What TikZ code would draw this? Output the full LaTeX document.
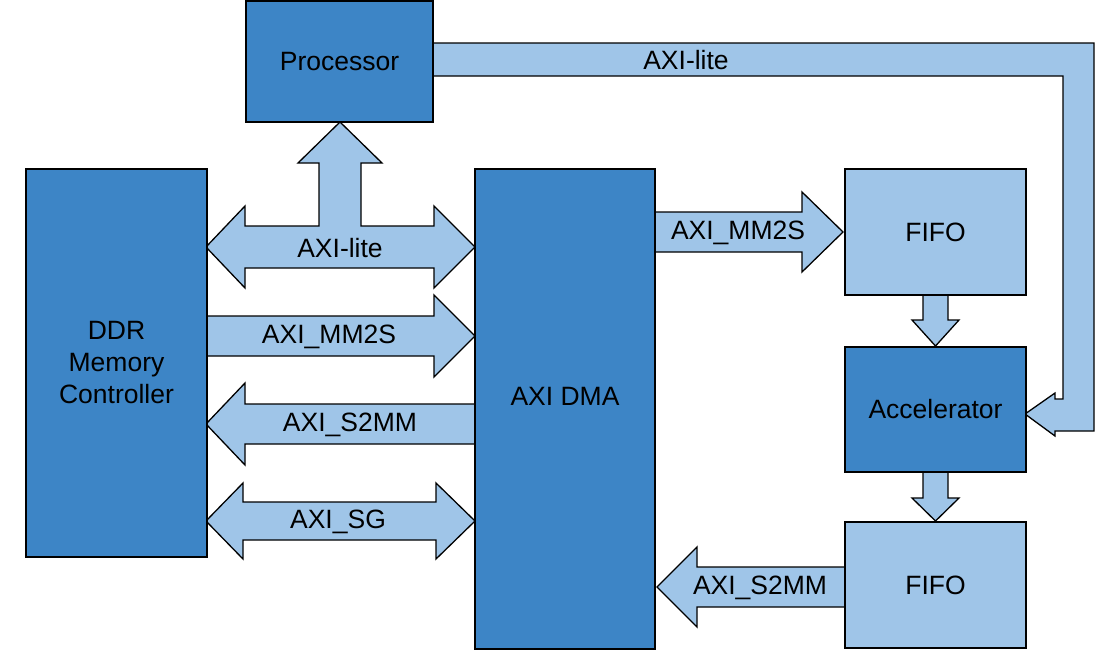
\documentclass[tikz,border=0pt]{standalone}
\usepackage{fontspec}
\setmainfont{Liberation Sans}
\definecolor{darkblk}{HTML}{3D85C6}
\definecolor{lightblk}{HTML}{9FC5E8}
\begin{document}
\begin{tikzpicture}[x=1pt,y=-1pt,
  every node/.style={font=\fontsize{26.5}{32}\selectfont, inner sep=0pt},
  darkbox/.style={draw=black, line width=1.3pt, fill=darkblk, rectangle},
  lightbox/.style={draw=black, line width=1.3pt, fill=lightblk, rectangle},
  blockarrow/.style={draw=black, line width=1.3pt, fill=lightblk, line join=miter},
  lbl/.style={text=black}]
\useasboundingbox (0,0) rectangle (1099,656);

% ---- block arrows (drawn first, boxes on top) ----
% AXI-lite bus from Processor to Accelerator
\draw[blockarrow] (433,43) -- (1094,43) -- (1094,431) -- (1055,431) -- (1055,436)
  -- (1025,414) -- (1055,393) -- (1055,399) -- (1063,399) -- (1063,76) -- (433,76) -- cycle;
\node[lbl] (lbus) at (686,60) {AXI-lite};

% T-shaped AXI-lite arrow
\draw[blockarrow] (206,247) -- (245,206) -- (245,226) -- (319,226) -- (319,163) -- (298,163)
  -- (340,122) -- (382,163) -- (361,163) -- (361,226) -- (434,226) -- (434,206) -- (475,247)
  -- (434,288) -- (434,268) -- (245,268) -- (245,288) -- cycle;
\node[lbl] (lt) at (340,248) {AXI-lite};

% AXI_MM2S DDR -> DMA
\draw[blockarrow] (207,316) -- (434,316) -- (434,295) -- (475,336) -- (434,377) -- (434,356) -- (207,356) -- cycle;
\node[lbl] (lmm) at (329,337) {AXI\_MM2S};

% AXI_S2MM DMA -> DDR
\draw[blockarrow] (475,404) -- (245,404) -- (245,383) -- (206,424) -- (245,465) -- (245,444) -- (475,444) -- cycle;
\node[lbl] (lsm) at (350,425) {AXI\_S2MM};

% AXI_SG double arrow
\draw[blockarrow] (206,521) -- (243,483) -- (243,502) -- (436,502) -- (436,483) -- (475,521)
  -- (436,559) -- (436,540) -- (243,540) -- (243,559) -- cycle;
\node[lbl] (lsg) at (338,522) {AXI\_SG};

% AXI_MM2S DMA -> FIFO
\draw[blockarrow] (655,212) -- (802,212) -- (802,192) -- (843,232) -- (802,272) -- (802,252) -- (655,252) -- cycle;
\node[lbl] (lmm2) at (738,233) {AXI\_MM2S};

% AXI_S2MM FIFO -> DMA
\draw[blockarrow] (845,567) -- (697,567) -- (697,547) -- (657,587) -- (697,627) -- (697,607) -- (845,607) -- cycle;
\node[lbl] (lsm2) at (760,588) {AXI\_S2MM};

% FIFO -> Accelerator
\draw[blockarrow] (923,295) -- (923,320) -- (912,320) -- (935.5,346) -- (959,320) -- (948,320) -- (948,295) -- cycle;
% Accelerator -> FIFO
\draw[blockarrow] (923,472) -- (923,498) -- (912,498) -- (935.5,521) -- (959,498) -- (948,498) -- (948,472) -- cycle;

% ---- boxes ----
\node[darkbox, minimum width=187pt, minimum height=121pt] (proc) at (339.5,61.5) {Processor};
\node[darkbox, minimum width=181pt, minimum height=388pt, align=center] (ddr) at (116.5,363) {DDR\\Memory\\Controller};
\node[darkbox, minimum width=180pt, minimum height=480pt] (dma) at (565,409) {};
\node[lbl] (dmatext) at (565,396) {AXI DMA};
\node[lightbox, minimum width=181pt, minimum height=126pt] (fifo1) at (935.5,232) {FIFO};
\node[darkbox, minimum width=181pt, minimum height=125pt] (acc) at (935.5,409.5) {Accelerator};
\node[lightbox, minimum width=181pt, minimum height=126pt] (fifo2) at (935.5,585) {FIFO};
\end{tikzpicture}
\end{document}
